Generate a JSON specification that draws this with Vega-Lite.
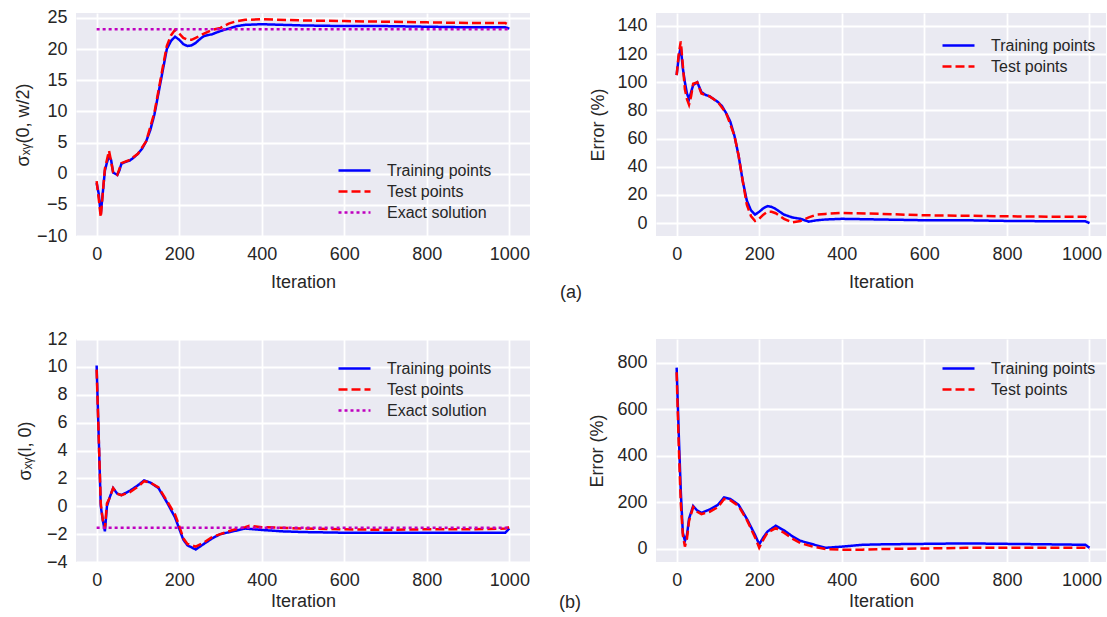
{
  "$schema": "https://vega.github.io/schema/vega-lite/v6.json",
  "background": "white",
  "padding": {"left": 14, "top": 8, "right": 0, "bottom": 0},
  "config": {
    "font": "Liberation Sans",
    "view": {"fill": "#EAEAF2", "stroke": null},
    "axis": {"domain": false, "ticks": false, "grid": true, "gridColor": "white", "gridWidth": 1.8, "labelFontSize": 18, "titleFontSize": 18, "labelColor": "#262626", "titleColor": "#262626", "titleFontWeight": "normal", "labelPadding": 9, "format": "d"},
    "legend": {"orient": "none", "title": null, "symbolType": "M-1.6,0L1.6,0", "symbolSize": 400, "symbolStrokeWidth": 2.5, "labelFontSize": 16, "labelColor": "#262626", "labelOffset": 21, "rowPadding": 1, "padding": 0},
    "title": {"fontSize": 18, "fontWeight": "normal", "color": "#262626"}
  },
  "datasets": {
    "a1": [
      {"it":0,"v":-1.5,"s":"Training points"},{"it":5,"v":-3.2,"s":"Training points"},{"it":10,"v":-6.5,"s":"Training points"},{"it":15,"v":-3,"s":"Training points"},{"it":20,"v":0.5,"s":"Training points"},{"it":25,"v":1.8,"s":"Training points"},{"it":30,"v":2.8,"s":"Training points"},{"it":35,"v":2.2,"s":"Training points"},{"it":40,"v":0.2,"s":"Training points"},{"it":50,"v":-0.2,"s":"Training points"},{"it":55,"v":0.5,"s":"Training points"},{"it":60,"v":1.6,"s":"Training points"},{"it":70,"v":1.9,"s":"Training points"},{"it":80,"v":2.1,"s":"Training points"},{"it":90,"v":2.6,"s":"Training points"},{"it":100,"v":3.2,"s":"Training points"},{"it":110,"v":4,"s":"Training points"},{"it":120,"v":5.2,"s":"Training points"},{"it":130,"v":7,"s":"Training points"},{"it":140,"v":9.5,"s":"Training points"},{"it":150,"v":13,"s":"Training points"},{"it":160,"v":16.5,"s":"Training points"},{"it":170,"v":20,"s":"Training points"},{"it":180,"v":21.3,"s":"Training points"},{"it":190,"v":22,"s":"Training points"},{"it":200,"v":21.5,"s":"Training points"},{"it":210,"v":20.8,"s":"Training points"},{"it":220,"v":20.5,"s":"Training points"},{"it":230,"v":20.6,"s":"Training points"},{"it":240,"v":21,"s":"Training points"},{"it":250,"v":21.6,"s":"Training points"},{"it":260,"v":22.1,"s":"Training points"},{"it":280,"v":22.4,"s":"Training points"},{"it":300,"v":22.9,"s":"Training points"},{"it":320,"v":23.3,"s":"Training points"},{"it":340,"v":23.7,"s":"Training points"},{"it":360,"v":23.9,"s":"Training points"},{"it":400,"v":24,"s":"Training points"},{"it":450,"v":23.9,"s":"Training points"},{"it":500,"v":23.8,"s":"Training points"},{"it":600,"v":23.7,"s":"Training points"},{"it":700,"v":23.7,"s":"Training points"},{"it":800,"v":23.6,"s":"Training points"},{"it":900,"v":23.5,"s":"Training points"},{"it":990,"v":23.5,"s":"Training points"},{"it":1000,"v":23.3,"s":"Training points"},
      {"it":0,"v":-1.2,"s":"Test points"},{"it":5,"v":-4,"s":"Test points"},{"it":10,"v":-7,"s":"Test points"},{"it":15,"v":-3,"s":"Test points"},{"it":20,"v":0.8,"s":"Test points"},{"it":30,"v":3.7,"s":"Test points"},{"it":35,"v":2,"s":"Test points"},{"it":40,"v":0.2,"s":"Test points"},{"it":50,"v":-0.2,"s":"Test points"},{"it":60,"v":1.7,"s":"Test points"},{"it":80,"v":2.2,"s":"Test points"},{"it":100,"v":3.2,"s":"Test points"},{"it":120,"v":5.2,"s":"Test points"},{"it":140,"v":9.8,"s":"Test points"},{"it":160,"v":17,"s":"Test points"},{"it":170,"v":20.5,"s":"Test points"},{"it":180,"v":22.2,"s":"Test points"},{"it":190,"v":23.1,"s":"Test points"},{"it":200,"v":22.5,"s":"Test points"},{"it":210,"v":21.8,"s":"Test points"},{"it":220,"v":21.5,"s":"Test points"},{"it":230,"v":21.5,"s":"Test points"},{"it":240,"v":21.8,"s":"Test points"},{"it":260,"v":22.5,"s":"Test points"},{"it":280,"v":23.1,"s":"Test points"},{"it":300,"v":23.4,"s":"Test points"},{"it":320,"v":24.1,"s":"Test points"},{"it":340,"v":24.5,"s":"Test points"},{"it":360,"v":24.7,"s":"Test points"},{"it":400,"v":24.8,"s":"Test points"},{"it":500,"v":24.6,"s":"Test points"},{"it":600,"v":24.5,"s":"Test points"},{"it":700,"v":24.4,"s":"Test points"},{"it":800,"v":24.3,"s":"Test points"},{"it":900,"v":24.2,"s":"Test points"},{"it":990,"v":24.2,"s":"Test points"},{"it":1000,"v":23.8,"s":"Test points"},
      {"it":0,"v":23.2,"s":"Exact solution"},{"it":1000,"v":23.2,"s":"Exact solution"}
    ],
    "a2": [
      {"it":0,"v":105,"s":"Training points"},{"it":5,"v":118,"s":"Training points"},{"it":10,"v":125,"s":"Training points"},{"it":15,"v":110,"s":"Training points"},{"it":20,"v":100,"s":"Training points"},{"it":25,"v":92,"s":"Training points"},{"it":30,"v":88,"s":"Training points"},{"it":35,"v":93,"s":"Training points"},{"it":40,"v":98,"s":"Training points"},{"it":50,"v":100,"s":"Training points"},{"it":60,"v":93,"s":"Training points"},{"it":70,"v":91,"s":"Training points"},{"it":80,"v":90,"s":"Training points"},{"it":90,"v":88,"s":"Training points"},{"it":100,"v":86,"s":"Training points"},{"it":110,"v":83,"s":"Training points"},{"it":120,"v":78,"s":"Training points"},{"it":130,"v":72,"s":"Training points"},{"it":140,"v":62,"s":"Training points"},{"it":150,"v":48,"s":"Training points"},{"it":160,"v":30,"s":"Training points"},{"it":170,"v":16,"s":"Training points"},{"it":180,"v":9,"s":"Training points"},{"it":190,"v":6,"s":"Training points"},{"it":200,"v":8,"s":"Training points"},{"it":210,"v":10.5,"s":"Training points"},{"it":220,"v":12,"s":"Training points"},{"it":230,"v":11.5,"s":"Training points"},{"it":240,"v":10,"s":"Training points"},{"it":260,"v":6,"s":"Training points"},{"it":280,"v":4,"s":"Training points"},{"it":300,"v":3,"s":"Training points"},{"it":320,"v":1,"s":"Training points"},{"it":340,"v":2,"s":"Training points"},{"it":360,"v":2.5,"s":"Training points"},{"it":400,"v":3,"s":"Training points"},{"it":500,"v":2.5,"s":"Training points"},{"it":600,"v":2,"s":"Training points"},{"it":700,"v":2,"s":"Training points"},{"it":800,"v":1.5,"s":"Training points"},{"it":900,"v":1.3,"s":"Training points"},{"it":990,"v":1.2,"s":"Training points"},{"it":1000,"v":0,"s":"Training points"},
      {"it":0,"v":105,"s":"Test points"},{"it":5,"v":120,"s":"Test points"},{"it":10,"v":129,"s":"Test points"},{"it":15,"v":112,"s":"Test points"},{"it":20,"v":95,"s":"Test points"},{"it":25,"v":88,"s":"Test points"},{"it":30,"v":84,"s":"Test points"},{"it":35,"v":90,"s":"Test points"},{"it":40,"v":99,"s":"Test points"},{"it":50,"v":100,"s":"Test points"},{"it":60,"v":92,"s":"Test points"},{"it":80,"v":90,"s":"Test points"},{"it":100,"v":86,"s":"Test points"},{"it":120,"v":78,"s":"Test points"},{"it":140,"v":62,"s":"Test points"},{"it":150,"v":48,"s":"Test points"},{"it":160,"v":30,"s":"Test points"},{"it":170,"v":13,"s":"Test points"},{"it":180,"v":5,"s":"Test points"},{"it":190,"v":1.5,"s":"Test points"},{"it":200,"v":3,"s":"Test points"},{"it":210,"v":6,"s":"Test points"},{"it":220,"v":8,"s":"Test points"},{"it":230,"v":8,"s":"Test points"},{"it":240,"v":7,"s":"Test points"},{"it":260,"v":3,"s":"Test points"},{"it":280,"v":0.5,"s":"Test points"},{"it":300,"v":1.5,"s":"Test points"},{"it":320,"v":4,"s":"Test points"},{"it":340,"v":6,"s":"Test points"},{"it":360,"v":6.5,"s":"Test points"},{"it":400,"v":7.2,"s":"Test points"},{"it":500,"v":6.5,"s":"Test points"},{"it":600,"v":5.5,"s":"Test points"},{"it":700,"v":5.2,"s":"Test points"},{"it":800,"v":4.8,"s":"Test points"},{"it":900,"v":4.5,"s":"Test points"},{"it":990,"v":4.5,"s":"Test points"},{"it":1000,"v":3,"s":"Test points"}
    ],
    "b1": [
      {"it":0,"v":10.1,"s":"Training points"},{"it":5,"v":5,"s":"Training points"},{"it":10,"v":0,"s":"Training points"},{"it":15,"v":-1,"s":"Training points"},{"it":20,"v":-1.8,"s":"Training points"},{"it":25,"v":0,"s":"Training points"},{"it":30,"v":0.5,"s":"Training points"},{"it":40,"v":1.3,"s":"Training points"},{"it":50,"v":0.9,"s":"Training points"},{"it":60,"v":0.8,"s":"Training points"},{"it":80,"v":1.1,"s":"Training points"},{"it":100,"v":1.5,"s":"Training points"},{"it":115,"v":1.85,"s":"Training points"},{"it":130,"v":1.7,"s":"Training points"},{"it":150,"v":1.3,"s":"Training points"},{"it":170,"v":0.3,"s":"Training points"},{"it":190,"v":-0.8,"s":"Training points"},{"it":200,"v":-1.6,"s":"Training points"},{"it":210,"v":-2.4,"s":"Training points"},{"it":220,"v":-2.8,"s":"Training points"},{"it":240,"v":-3.1,"s":"Training points"},{"it":260,"v":-2.7,"s":"Training points"},{"it":280,"v":-2.3,"s":"Training points"},{"it":300,"v":-2,"s":"Training points"},{"it":330,"v":-1.8,"s":"Training points"},{"it":360,"v":-1.6,"s":"Training points"},{"it":400,"v":-1.7,"s":"Training points"},{"it":450,"v":-1.8,"s":"Training points"},{"it":500,"v":-1.85,"s":"Training points"},{"it":600,"v":-1.9,"s":"Training points"},{"it":700,"v":-1.9,"s":"Training points"},{"it":800,"v":-1.9,"s":"Training points"},{"it":900,"v":-1.9,"s":"Training points"},{"it":990,"v":-1.9,"s":"Training points"},{"it":1000,"v":-1.6,"s":"Training points"},
      {"it":0,"v":9.8,"s":"Test points"},{"it":5,"v":5,"s":"Test points"},{"it":10,"v":0.2,"s":"Test points"},{"it":15,"v":-1,"s":"Test points"},{"it":20,"v":-1.6,"s":"Test points"},{"it":25,"v":0.2,"s":"Test points"},{"it":30,"v":0.5,"s":"Test points"},{"it":40,"v":1.3,"s":"Test points"},{"it":50,"v":0.9,"s":"Test points"},{"it":60,"v":0.8,"s":"Test points"},{"it":80,"v":1,"s":"Test points"},{"it":100,"v":1.4,"s":"Test points"},{"it":115,"v":1.8,"s":"Test points"},{"it":130,"v":1.7,"s":"Test points"},{"it":150,"v":1.35,"s":"Test points"},{"it":170,"v":0.4,"s":"Test points"},{"it":190,"v":-0.6,"s":"Test points"},{"it":200,"v":-1.4,"s":"Test points"},{"it":210,"v":-2.3,"s":"Test points"},{"it":220,"v":-2.7,"s":"Test points"},{"it":240,"v":-2.9,"s":"Test points"},{"it":260,"v":-2.6,"s":"Test points"},{"it":280,"v":-2.2,"s":"Test points"},{"it":300,"v":-2,"s":"Test points"},{"it":330,"v":-1.7,"s":"Test points"},{"it":360,"v":-1.5,"s":"Test points"},{"it":370,"v":-1.4,"s":"Test points"},{"it":400,"v":-1.5,"s":"Test points"},{"it":500,"v":-1.6,"s":"Test points"},{"it":600,"v":-1.65,"s":"Test points"},{"it":700,"v":-1.7,"s":"Test points"},{"it":800,"v":-1.65,"s":"Test points"},{"it":900,"v":-1.65,"s":"Test points"},{"it":990,"v":-1.6,"s":"Test points"},{"it":1000,"v":-1.5,"s":"Test points"},
      {"it":0,"v":-1.55,"s":"Exact solution"},{"it":1000,"v":-1.55,"s":"Exact solution"}
    ],
    "b2": [
      {"it":0,"v":780,"s":"Training points"},{"it":5,"v":500,"s":"Training points"},{"it":10,"v":250,"s":"Training points"},{"it":15,"v":70,"s":"Training points"},{"it":20,"v":35,"s":"Training points"},{"it":25,"v":60,"s":"Training points"},{"it":30,"v":130,"s":"Training points"},{"it":40,"v":185,"s":"Training points"},{"it":50,"v":165,"s":"Training points"},{"it":60,"v":155,"s":"Training points"},{"it":80,"v":170,"s":"Training points"},{"it":100,"v":190,"s":"Training points"},{"it":115,"v":222,"s":"Training points"},{"it":130,"v":215,"s":"Training points"},{"it":150,"v":190,"s":"Training points"},{"it":170,"v":130,"s":"Training points"},{"it":190,"v":60,"s":"Training points"},{"it":200,"v":20,"s":"Training points"},{"it":210,"v":50,"s":"Training points"},{"it":220,"v":75,"s":"Training points"},{"it":240,"v":100,"s":"Training points"},{"it":260,"v":80,"s":"Training points"},{"it":280,"v":55,"s":"Training points"},{"it":300,"v":35,"s":"Training points"},{"it":330,"v":20,"s":"Training points"},{"it":360,"v":5,"s":"Training points"},{"it":400,"v":10,"s":"Training points"},{"it":450,"v":18,"s":"Training points"},{"it":500,"v":20,"s":"Training points"},{"it":600,"v":22,"s":"Training points"},{"it":700,"v":24,"s":"Training points"},{"it":800,"v":22,"s":"Training points"},{"it":900,"v":20,"s":"Training points"},{"it":990,"v":18,"s":"Training points"},{"it":1000,"v":5,"s":"Training points"},
      {"it":0,"v":760,"s":"Test points"},{"it":5,"v":450,"s":"Test points"},{"it":10,"v":200,"s":"Test points"},{"it":15,"v":60,"s":"Test points"},{"it":20,"v":10,"s":"Test points"},{"it":25,"v":45,"s":"Test points"},{"it":30,"v":120,"s":"Test points"},{"it":40,"v":180,"s":"Test points"},{"it":50,"v":160,"s":"Test points"},{"it":60,"v":150,"s":"Test points"},{"it":80,"v":160,"s":"Test points"},{"it":100,"v":180,"s":"Test points"},{"it":115,"v":215,"s":"Test points"},{"it":130,"v":210,"s":"Test points"},{"it":150,"v":185,"s":"Test points"},{"it":170,"v":125,"s":"Test points"},{"it":190,"v":50,"s":"Test points"},{"it":200,"v":5,"s":"Test points"},{"it":210,"v":40,"s":"Test points"},{"it":220,"v":70,"s":"Test points"},{"it":240,"v":90,"s":"Test points"},{"it":260,"v":70,"s":"Test points"},{"it":280,"v":45,"s":"Test points"},{"it":300,"v":25,"s":"Test points"},{"it":330,"v":10,"s":"Test points"},{"it":360,"v":0,"s":"Test points"},{"it":400,"v":-3,"s":"Test points"},{"it":450,"v":-3,"s":"Test points"},{"it":500,"v":0,"s":"Test points"},{"it":600,"v":2,"s":"Test points"},{"it":700,"v":5,"s":"Test points"},{"it":800,"v":5,"s":"Test points"},{"it":900,"v":5,"s":"Test points"},{"it":990,"v":5,"s":"Test points"},{"it":1000,"v":0,"s":"Test points"}
    ]
  },
  "columns": 2,
  "bounds": "flush",
  "spacing": {"row": 103, "column": 126},
  "resolve": {"scale": {"color": "independent", "strokeDash": "independent"}, "legend": {"color": "independent", "strokeDash": "independent"}},
  "concat": [
    {
      "width": 454, "height": 223,
      "data": {"name": "a1"},
      "mark": {"type": "line", "strokeWidth": 2.5, "clip": true},
      "encoding": {
        "x": {"field": "it", "type": "quantitative", "scale": {"domain": [-50, 1050], "nice": false, "zero": false}, "axis": {"values": [0, 200, 400, 600, 800, 1000], "title": "Iteration", "titlePadding": 10}},
        "y": {"field": "v", "type": "quantitative", "scale": {"domain": [-10, 25.8], "nice": false, "zero": false}, "axis": {"values": [-10, -5, 0, 5, 10, 15, 20, 25], "title": "σₓᵧ(0, w/2)", "titlePadding": 4}},
        "color": {"field": "s", "type": "nominal", "scale": {"domain": ["Training points", "Test points", "Exact solution"], "range": ["#0000FF", "#FF0000", "#BF00BF"]}, "legend": {"legendX": 267, "legendY": 146}},
        "strokeDash": {"field": "s", "type": "nominal", "scale": {"domain": ["Training points", "Test points", "Exact solution"], "range": [[1, 0], [9, 4], [3, 3]]}, "legend": {"legendX": 267, "legendY": 146}}
      }
    },
    {
      "width": 450, "height": 223,
      "data": {"name": "a2"},
      "title": {"text": "(a)", "orient": "bottom", "anchor": "start", "dx": -30, "dy": -7, "offset": 0},
      "mark": {"type": "line", "strokeWidth": 2.5, "clip": true},
      "encoding": {
        "x": {"field": "it", "type": "quantitative", "scale": {"domain": [-50, 1040], "nice": false, "zero": false}, "axis": {"values": [0, 200, 400, 600, 800, 1000], "title": "Iteration", "titlePadding": 10, "labelFlush": 18, "labelFlushOffset": 12}},
        "y": {"field": "v", "type": "quantitative", "scale": {"domain": [-9.2, 149.2], "nice": false, "zero": false}, "axis": {"values": [0, 20, 40, 60, 80, 100, 120, 140], "title": "Error (%)", "titlePadding": 9}},
        "color": {"field": "s", "type": "nominal", "scale": {"domain": ["Training points", "Test points"], "range": ["#0000FF", "#FF0000"]}, "legend": {"legendX": 291, "legendY": 21}},
        "strokeDash": {"field": "s", "type": "nominal", "scale": {"domain": ["Training points", "Test points"], "range": [[1, 0], [9, 4]]}, "legend": {"legendX": 291, "legendY": 21}}
      }
    },
    {
      "width": 454, "height": 223,
      "data": {"name": "b1"},
      "mark": {"type": "line", "strokeWidth": 2.5, "clip": true},
      "encoding": {
        "x": {"field": "it", "type": "quantitative", "scale": {"domain": [-50, 1050], "nice": false, "zero": false}, "axis": {"values": [0, 200, 400, 600, 800, 1000], "title": "Iteration", "titlePadding": 3}},
        "y": {"field": "v", "type": "quantitative", "scale": {"domain": [-4, 12], "nice": false, "zero": false}, "axis": {"values": [-4, -2, 0, 2, 4, 6, 8, 10, 12], "title": "σₓᵧ(l, 0)", "titlePadding": 12}},
        "color": {"field": "s", "type": "nominal", "scale": {"domain": ["Training points", "Test points", "Exact solution"], "range": ["#0000FF", "#FF0000", "#BF00BF"]}, "legend": {"legendX": 267, "legendY": 18}},
        "strokeDash": {"field": "s", "type": "nominal", "scale": {"domain": ["Training points", "Test points", "Exact solution"], "range": [[1, 0], [9, 4], [3, 3]]}, "legend": {"legendX": 267, "legendY": 18}}
      }
    },
    {
      "width": 450, "height": 223,
      "data": {"name": "b2"},
      "title": {"text": "(b)", "orient": "bottom", "anchor": "start", "dx": -30, "dy": -16, "offset": 0},
      "mark": {"type": "line", "strokeWidth": 2.5, "clip": true},
      "encoding": {
        "x": {"field": "it", "type": "quantitative", "scale": {"domain": [-50, 1040], "nice": false, "zero": false}, "axis": {"values": [0, 200, 400, 600, 800, 1000], "title": "Iteration", "titlePadding": 3, "labelFlush": 18, "labelFlushOffset": 12}},
        "y": {"field": "v", "type": "quantitative", "scale": {"domain": [-56, 903], "nice": false, "zero": false}, "axis": {"values": [0, 200, 400, 600, 800], "title": "Error (%)", "titlePadding": 10}},
        "color": {"field": "s", "type": "nominal", "scale": {"domain": ["Training points", "Test points"], "range": ["#0000FF", "#FF0000"]}, "legend": {"legendX": 291, "legendY": 18}},
        "strokeDash": {"field": "s", "type": "nominal", "scale": {"domain": ["Training points", "Test points"], "range": [[1, 0], [9, 4]]}, "legend": {"legendX": 291, "legendY": 18}}
      }
    }
  ]
}
